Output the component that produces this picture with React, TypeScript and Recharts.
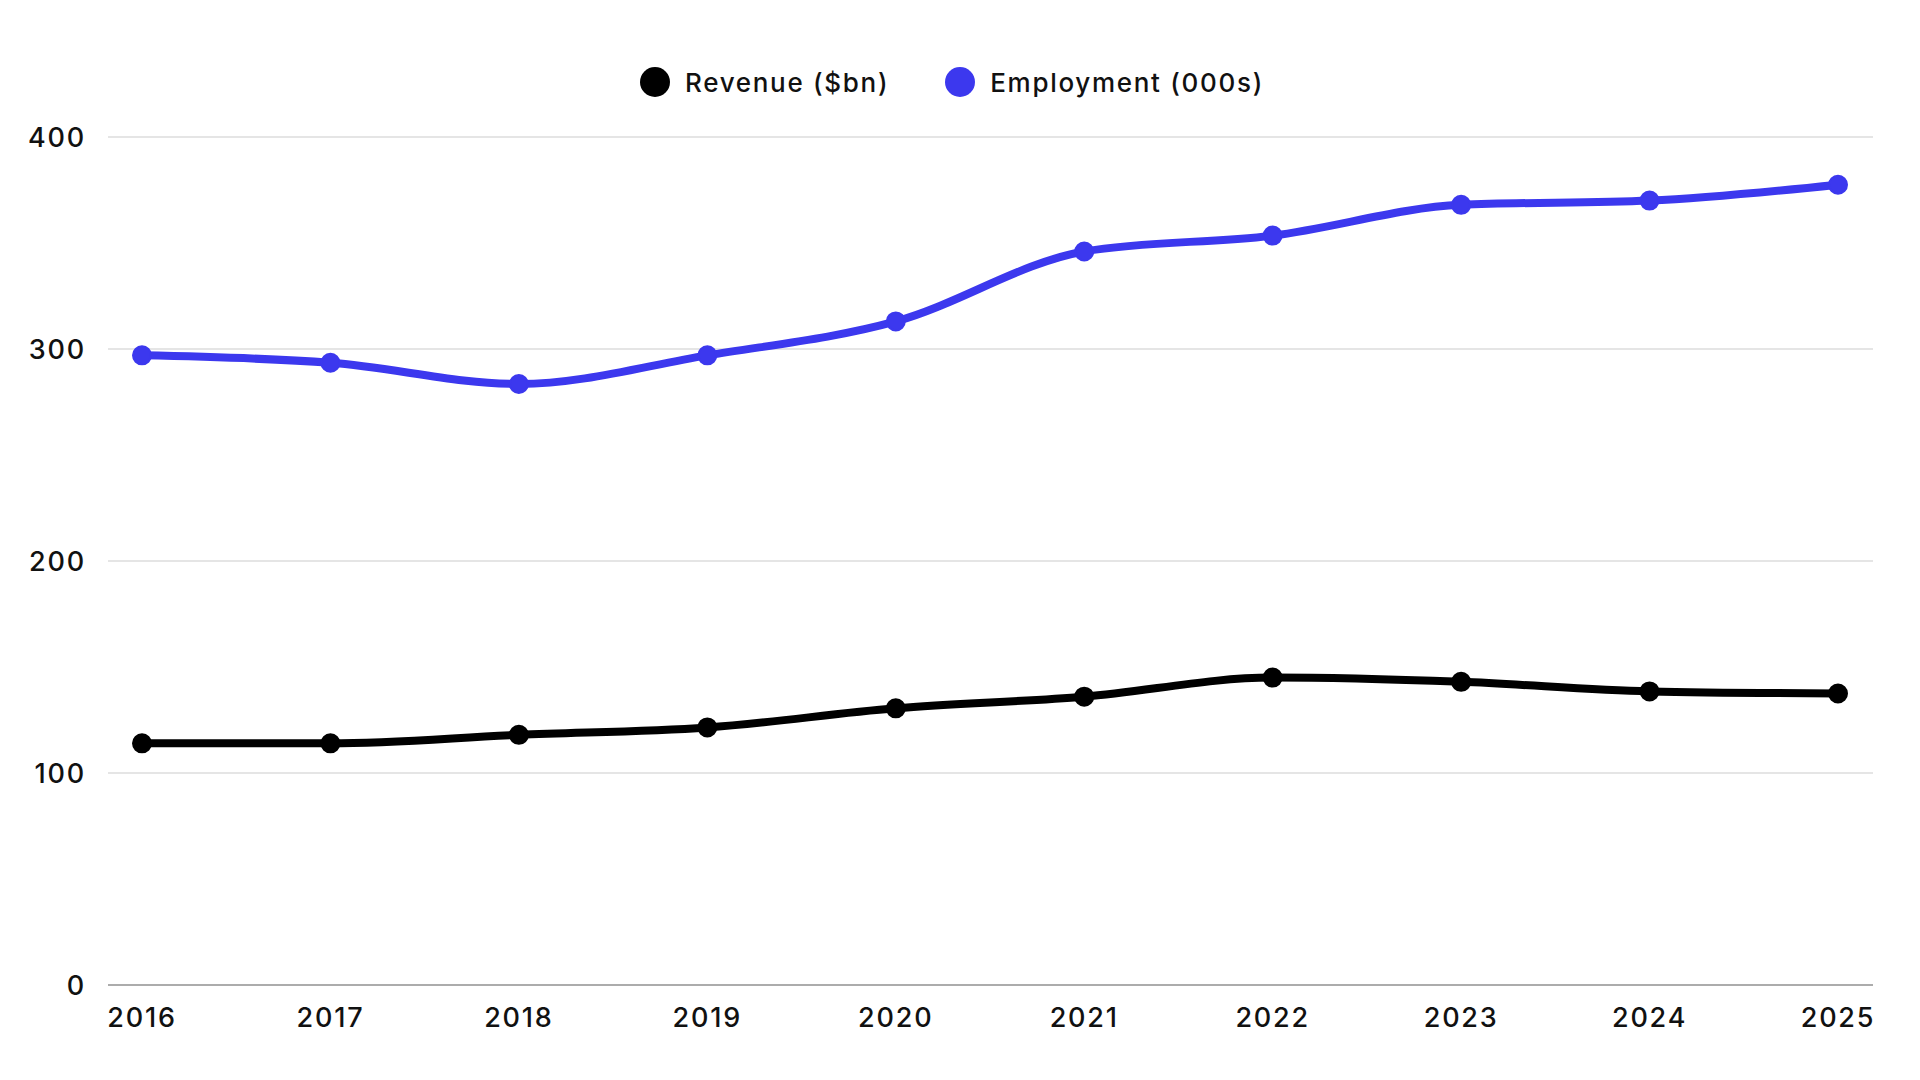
import { CartesianGrid, Legend, Line, LineChart, XAxis, YAxis } from 'recharts'

const years = ['2016', '2017', '2018', '2019', '2020', '2021', '2022', '2023', '2024', '2025']
const revenue = [114, 114, 118, 121.5, 130.5, 136, 145, 143, 138.5, 137.5]
const employment = [297, 293.5, 283.5, 297, 313, 346, 353.5, 368, 370, 377.5]
const yTicks = [0, 100, 200, 300, 400]

const seriesInfo = [
  { key: 'revenue', name: 'Revenue ($bn)', color: '#000000' },
  { key: 'employment', name: 'Employment (000s)', color: '#3c38ee' },
]

const FONT = 'Inter, "Noto Sans", sans-serif'

function ChartLegend() {
  return (
    <div style={{ display: 'flex', justifyContent: 'center', alignItems: 'center', gap: 56, height: 40 }}>
      {seriesInfo.map((s) => (
        <div key={s.key} style={{ display: 'flex', alignItems: 'center', gap: 15 }}>
          <span
            style={{ width: 30, height: 30, borderRadius: '50%', background: s.color, display: 'inline-block' }}
          />
          <span
            style={{ fontFamily: FONT, fontSize: 26, color: '#111', fontWeight: 550, letterSpacing: 1.7 }}
          >
            {s.name}
          </span>
        </div>
      ))}
    </div>
  )
}

export default function App() {
  const data = years.map((year, i) => ({
    year,
    revenue: revenue[i],
    employment: employment[i],
  }))

  const tickStyle = { fontSize: 27, fill: '#111', fontFamily: FONT, fontWeight: 550, letterSpacing: 1.8 }

  return (
    <div style={{ position: 'absolute', left: 0, top: 0, width: 1920, height: 1080, background: '#fff' }}>
      <LineChart width={1920} height={1080} data={data} margin={{ top: 97, right: 47, left: 0, bottom: 35 }}>
        <CartesianGrid vertical={false} stroke="#dcdcdc" strokeWidth={1.5} />
        <XAxis
          dataKey="year"
          tick={tickStyle}
          tickLine={false}
          tickSize={0}
          tickMargin={23}
          axisLine={{ stroke: '#999', strokeWidth: 1.5 }}
          padding={{ left: 34, right: 35 }}
          height={60}
          interval={0}
        />
        <YAxis
          domain={[0, 400]}
          ticks={yTicks}
          tick={tickStyle}
          tickLine={false}
          tickSize={0}
          tickMargin={22}
          axisLine={false}
          width={108}
        />
        <Legend verticalAlign="top" content={() => <ChartLegend />} wrapperStyle={{ top: 62, left: 0, width: 1904 }} />
        {seriesInfo.map((s) => (
          <Line
            key={s.key}
            type="monotone"
            dataKey={s.key}
            name={s.name}
            stroke={s.color}
            strokeWidth={8}
            dot={{ r: 9, fill: s.color, stroke: s.color, strokeWidth: 2 }}
            activeDot={false}
            isAnimationActive={false}
          />
        ))}
      </LineChart>
    </div>
  )
}
